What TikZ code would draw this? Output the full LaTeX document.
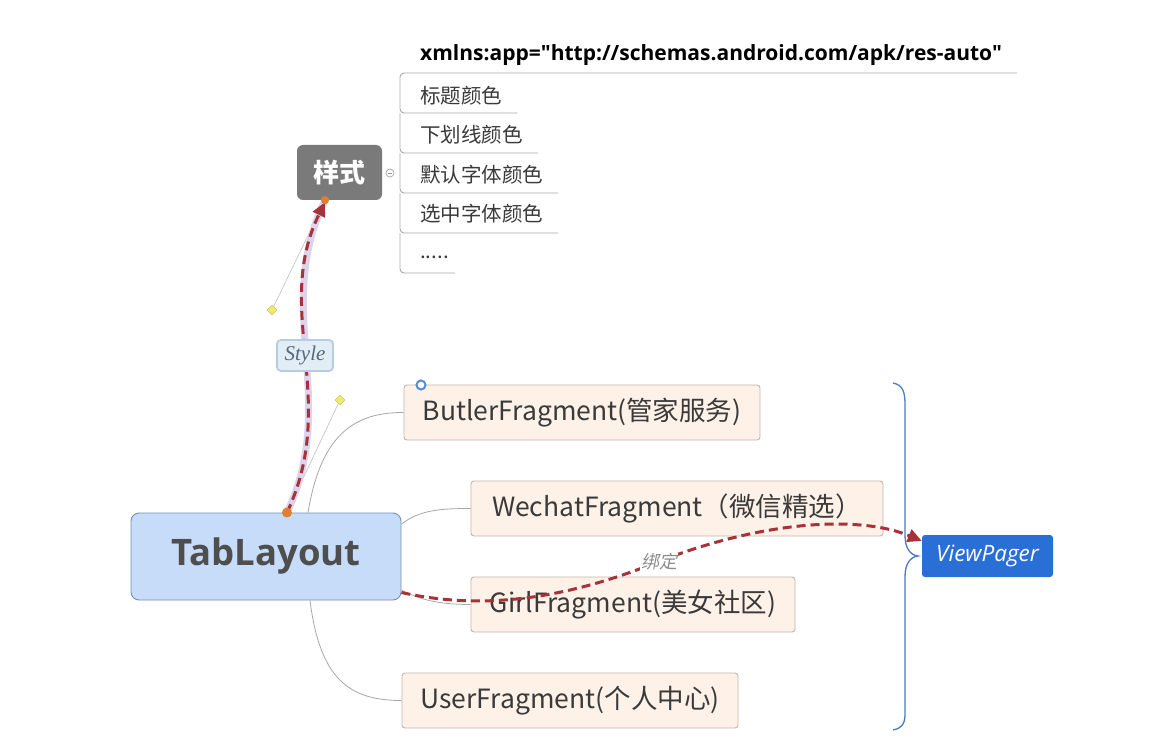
\documentclass[tikz,border=0pt]{standalone}
\usepackage{fontspec}
\setmainfont{Noto Sans CJK SC}
\newfontfamily\osans{Open Sans}
\newfontfamily\serifit{Liberation Serif}
\newfontfamily\cjkslant{Noto Sans CJK SC}[FakeSlant=0.2]
\usetikzlibrary{arrows.meta,shapes.geometric}
\definecolor{fragfill}{HTML}{FDF1E8}
\definecolor{fragborder}{HTML}{C4B6AA}
\definecolor{textdark}{HTML}{3A3A3A}
\definecolor{tabfill}{HTML}{C7DCF8}
\definecolor{tabborder}{HTML}{7690B4}
\definecolor{stylegray}{HTML}{7A7A7A}
\definecolor{linkred}{HTML}{A8323A}
\definecolor{halo}{HTML}{DCD4EC}
\definecolor{lblfill}{HTML}{E2EDF6}
\definecolor{lblborder}{HTML}{B5CDE3}
\definecolor{lbltext}{HTML}{56687A}
\definecolor{vpblue}{HTML}{2A6FD6}
\definecolor{bracecol}{HTML}{4A7AC8}
\definecolor{dotorange}{HTML}{E0802E}
\definecolor{diam}{HTML}{F2EA6A}
\definecolor{listline}{HTML}{A8A8A8}
\tikzset{
  frag/.style={draw=fragborder, fill=fragfill, rounded corners=3pt, line width=0.9pt,
    minimum height=55, inner sep=0pt, text=textdark, font=\fontsize{26.5}{30}\selectfont},
  item/.style={anchor=west, inner sep=0pt, text=textdark, font=\fontsize{20.5}{24}\selectfont},
  conn/.style={draw=listline, line width=0.8pt},
  dashlink/.style={draw=linkred, line width=3pt, dash pattern=on 9pt off 5pt,
    -{Triangle[length=14pt,width=13pt]}},
  handle/.style={draw=black!25, line width=0.6pt},
  diamondmark/.style={diamond, fill=diam, draw=diam!80!black, line width=0.3pt, minimum size=10, inner sep=0pt},
  listln/.style={draw=listline, line width=0.9pt, rounded corners=4pt}
}
\begin{document}
\begin{tikzpicture}[x=1pt,y=-1pt]
\useasboundingbox (0,0) rectangle (1152,741);
\fill[white] (0,0) rectangle (1152,741);

% main nodes
\node[draw=tabborder, fill=tabfill, rounded corners=8pt, line width=0.9pt,
  minimum width=270, minimum height=87, inner sep=0pt, text=textdark!90,
  font=\osans\bfseries\fontsize{36.5}{40}\selectfont] (tab) at (266,556.5) {TabLayout};
\node[fill=stylegray, rounded corners=6pt, minimum width=85, minimum height=55,
  inner sep=0pt, text=white, font=\bfseries\fontsize{26}{29}\selectfont] (sty) at (339.5,172.5) {样式};

\node[frag, minimum width=356] (butler) at (582,412.5) {ButlerFragment(管家服务)};
\node[frag, minimum width=412] (wechat) at (677,508.5) {WechatFragment（微信精选）};
\node[frag, minimum width=324] (girl) at (633,604.5) {GirlFragment(美女社区)};
\node[frag, minimum width=336] (user) at (570,700.5) {UserFragment(个人中心)};

\node[fill=vpblue, rounded corners=3pt, minimum width=131, minimum height=42, inner sep=0pt,
  text=white, font=\osans\itshape\fontsize{22.5}{25}\selectfont] (vp) at (987.5,556) {ViewPager};

% list of style attributes
\node[anchor=west, inner sep=0pt, text=black, font=\osans\bfseries\fontsize{21}{24}\selectfont]
  (xmlns) at (420,55) {xmlns:app="http://schemas.android.com/apk/res-auto"};
\node[item] (i1) at (420,96) {标题颜色};
\node[item] (i2) at (420,135) {下划线颜色};
\node[item] (i3) at (420,175) {默认字体颜色};
\node[item] (i4) at (420,214) {选中字体颜色};
\node[item] (i5) at (420,257) {.....};

\draw[listln] (1017,73) -- (400,73) -- (400,113) -- (517,113);
\draw[listln] (400,113) -- (400,153) -- (538,153);
\draw[listln] (400,153) -- (400,193) -- (558,193);
\draw[listln] (400,193) -- (400,233) -- (558,233);
\draw[listln] (400,233) -- (400,273) -- (455,273);
\node[circle, draw=black!40, fill=white, line width=0.6pt, minimum size=8, inner sep=0pt] (collapse) at (390,173) {};
\draw[black!40, line width=0.6pt] ([xshift=-2]collapse.center) -- ([xshift=2]collapse.center);

% gray branch connectors
\draw[conn] ([xshift=42]tab.north) .. controls (320,440) and (350,412) .. (butler.west);
\draw[conn] ([yshift=32.5]tab.east) .. controls (420,510) and (440,508.5) .. (wechat.west);
\draw[conn] ([yshift=-33.5]tab.east) .. controls (420,600) and (440,604.5) .. (girl.west);
\draw[conn] ([xshift=44]tab.south) .. controls (320,680) and (350,700.5) .. (user.west);

% brace
\draw[bracecol, line width=1.3pt] (893,383) .. controls (903,385) and (905,392) .. (905,405)
  -- (905,535) .. controls (905,548) and (910,555) .. (918,556)
  .. controls (910,557) and (905,564) .. (905,577)
  -- (905,715) .. controls (905,725) and (900,729) .. (893,730);

% style link with handles
\node[diamondmark] (h1) at (340,400) {};
\node[diamondmark] (h2) at (272,310) {};
\draw[handle] ([xshift=21]tab.north) -- (h1);
\draw[handle] ([xshift=-14.5]sty.south) -- (h2);
\draw[halo, line width=7pt, line cap=round] ([xshift=21]tab.north) .. controls (340,400) and (272,310) .. ([xshift=-14.5]sty.south);
\draw[dashlink] ([xshift=21]tab.north) .. controls (340,400) and (272,310) .. ([xshift=-14.5,yshift=-2]sty.south);
\node[draw=lblborder, fill=lblfill, line width=1.8pt, rounded corners=4pt, minimum width=56,
  minimum height=31, inner sep=0pt, text=lbltext, font=\serifit\itshape\fontsize{21}{23}\selectfont]
  (stylelbl) at (305,355.5) {Style};
\fill[dotorange] ([xshift=21]tab.north) circle (5);
\fill[dotorange] ([xshift=-14.5]sty.south) circle (4);

% binding link
\draw[dashlink] ([yshift=-36]tab.east) .. controls (480,610) and (560,600) .. (650,565)
  .. controls (760,520) and (860,515) .. ([yshift=15]vp.west);
\node[fill=white, inner sep=1pt, text=black!45, font=\cjkslant\fontsize{18}{20}\selectfont] (bind) at (659,562) {绑定};

% selection marker
\node[circle, draw=vpblue!80, fill=white, line width=2pt, minimum size=9, inner sep=0pt] (sel) at (421,385) {};
\end{tikzpicture}
\end{document}
